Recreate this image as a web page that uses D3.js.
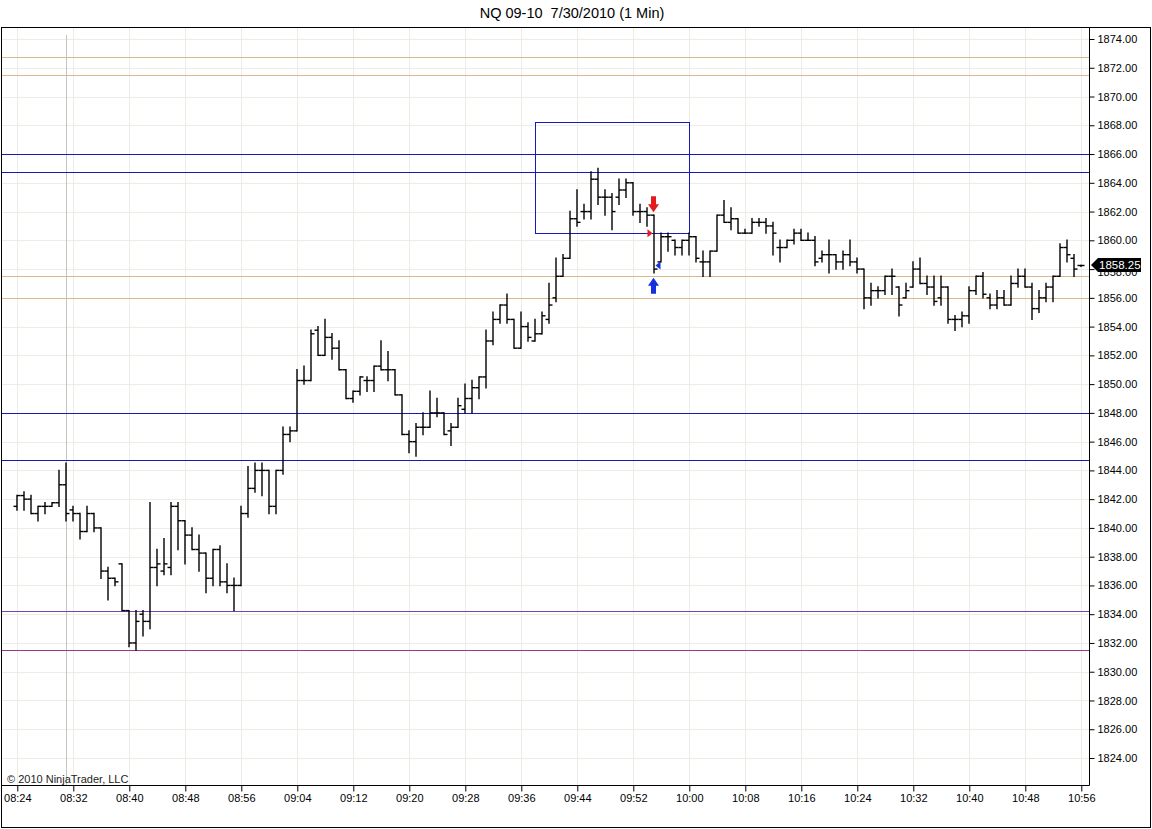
<!DOCTYPE html>
<html>
<head>
<meta charset="utf-8">
<script src="https://cdn.jsdelivr.net/npm/d3@7"></script>
<style>
  html, body { margin: 0; padding: 0; background: #fff; }
  svg text { font-family: "Liberation Sans", Arial, sans-serif; }
</style>
</head>
<body>
<div id="chart"></div>
<script>
// NQ 09-10 one-minute bars, 08:24 .. 10:56
const startTime = "08:24";
const opens = [
  1841.5, 1842.25, 1842.0, 1841.0, 1841.5, 1841.5, 1841.75, 1843.0, 1841.25, 1841.0,
  1839.75, 1841.0, 1840.0, 1837.0, 1836.5, 1837.5, 1834.25, 1832.0, 1834.0, 1833.5,
  1837.25, 1837.0, 1837.25, 1841.5, 1840.5, 1839.5, 1838.5, 1838.25, 1836.5, 1838.5,
  1836.25, 1836.0, 1836.0, 1841.0, 1842.75, 1844.0, 1844.0, 1841.5, 1844.0, 1846.5,
  1846.75, 1850.25, 1850.25, 1853.75, 1852.0, 1853.25, 1852.5, 1851.0, 1849.0, 1849.5,
  1850.25, 1850.25, 1851.25, 1851.0, 1851.0, 1849.25, 1846.5, 1846.0, 1847.0, 1847.0,
  1848.0, 1848.0, 1846.75, 1847.0, 1848.25, 1849.0, 1849.75, 1850.5, 1853.0, 1854.5,
  1855.5, 1854.5, 1852.5, 1854.0, 1853.0, 1853.5, 1854.5, 1856.0, 1857.5, 1858.75,
  1861.5, 1862.0, 1862.0, 1864.25, 1863.0, 1863.0, 1863.0, 1863.5, 1864.0, 1862.0,
  1862.0, 1861.75, 1858.5, 1860.25, 1860.0, 1859.5, 1860.0, 1860.25, 1858.5, 1858.5,
  1859.25, 1861.75, 1861.25, 1861.5, 1860.5, 1860.5, 1861.25, 1861.25, 1861.0, 1859.5,
  1859.5, 1860.0, 1860.5, 1860.0, 1860.0, 1858.75, 1859.0, 1859.0, 1858.5, 1859.0,
  1858.5, 1858.0, 1856.0, 1856.5, 1856.5, 1857.5, 1856.75, 1856.0, 1856.75, 1858.0,
  1857.0, 1856.75, 1856.0, 1856.75, 1854.5, 1854.5, 1854.75, 1856.5, 1857.5, 1856.0,
  1855.5, 1856.0, 1855.5, 1857.0, 1857.5, 1856.75, 1855.25, 1856.0, 1856.75, 1857.5,
  1859.5, 1858.75, 1858.25
];
const highs = [
  1842.25, 1842.5, 1842.25, 1841.5, 1841.75, 1841.75, 1844.0, 1844.5, 1841.5, 1841.0,
  1841.5, 1841.0, 1840.0, 1837.25, 1836.5, 1837.5, 1834.25, 1834.25, 1834.25, 1841.75,
  1838.5, 1839.25, 1841.75, 1841.75, 1840.5, 1840.0, 1839.5, 1838.25, 1838.5, 1838.75,
  1837.5, 1836.5, 1841.5, 1844.25, 1844.5, 1844.5, 1844.0, 1844.0, 1847.0, 1847.0,
  1851.0, 1851.25, 1853.75, 1854.0, 1854.5, 1853.5, 1853.0, 1851.0, 1849.5, 1850.5,
  1850.5, 1851.25, 1853.0, 1852.25, 1851.0, 1849.25, 1846.75, 1847.25, 1848.0, 1849.5,
  1849.0, 1848.0, 1847.25, 1849.0, 1850.0, 1850.25, 1850.5, 1853.75, 1855.0, 1855.5,
  1856.25, 1854.5, 1855.0, 1854.25, 1854.5, 1855.0, 1857.0, 1858.75, 1859.0, 1862.0,
  1863.5, 1862.5, 1864.75, 1865.0, 1863.5, 1863.25, 1864.25, 1864.25, 1864.0, 1862.5,
  1862.25, 1861.75, 1860.5, 1860.5, 1860.0, 1860.0, 1860.5, 1860.25, 1859.25, 1859.25,
  1861.75, 1862.75, 1862.25, 1861.5, 1860.75, 1861.5, 1861.5, 1861.5, 1861.25, 1860.0,
  1860.0, 1860.75, 1860.75, 1860.5, 1860.25, 1859.25, 1860.0, 1859.0, 1859.25, 1860.0,
  1858.75, 1858.0, 1857.0, 1856.75, 1857.5, 1858.0, 1856.75, 1857.0, 1858.5, 1858.75,
  1857.5, 1857.5, 1857.5, 1856.75, 1854.75, 1855.0, 1856.75, 1857.5, 1857.75, 1856.25,
  1856.5, 1856.5, 1857.5, 1858.0, 1858.0, 1857.0, 1856.5, 1857.0, 1857.5, 1859.75,
  1860.0, 1859.0, 1858.25
];
const lows = [
  1841.25, 1841.25, 1841.0, 1840.5, 1841.0, 1841.5, 1841.5, 1840.5, 1840.5, 1839.25,
  1839.75, 1839.75, 1836.5, 1835.0, 1836.0, 1834.25, 1831.75, 1831.5, 1832.5, 1833.0,
  1836.0, 1836.75, 1836.75, 1838.5, 1837.5, 1838.5, 1837.0, 1835.5, 1836.0, 1836.0,
  1835.5, 1834.25, 1836.0, 1840.75, 1842.5, 1842.25, 1841.0, 1841.0, 1843.75, 1846.0,
  1846.75, 1850.0, 1850.25, 1852.0, 1852.0, 1851.75, 1851.0, 1849.0, 1848.75, 1849.25,
  1849.5, 1849.5, 1851.0, 1850.25, 1849.25, 1846.5, 1845.25, 1845.0, 1846.5, 1847.0,
  1847.75, 1846.5, 1845.75, 1847.0, 1848.0, 1848.0, 1849.0, 1849.75, 1852.75, 1854.25,
  1854.25, 1852.5, 1852.5, 1853.0, 1853.0, 1853.5, 1854.25, 1855.75, 1857.5, 1858.75,
  1861.0, 1861.5, 1861.5, 1862.5, 1861.75, 1860.75, 1862.5, 1863.0, 1861.75, 1861.25,
  1861.0, 1857.75, 1858.5, 1859.25, 1859.0, 1859.0, 1859.0, 1858.5, 1857.5, 1857.5,
  1859.25, 1861.25, 1860.75, 1860.5, 1860.5, 1860.5, 1861.0, 1860.5, 1859.0, 1858.5,
  1859.5, 1859.75, 1860.0, 1860.0, 1858.25, 1858.5, 1857.75, 1858.0, 1858.0, 1858.25,
  1857.75, 1855.25, 1855.5, 1856.0, 1856.25, 1856.25, 1854.75, 1856.0, 1856.75, 1857.0,
  1856.25, 1855.5, 1855.5, 1854.25, 1853.75, 1854.0, 1854.25, 1856.25, 1856.0, 1855.25,
  1855.25, 1855.5, 1855.5, 1856.75, 1856.75, 1854.5, 1855.0, 1855.75, 1855.75, 1857.5,
  1858.5, 1857.5, 1858.25
];
const closes = [
  1842.25, 1842.0, 1841.0, 1841.5, 1841.5, 1841.75, 1843.0, 1841.0, 1841.0, 1839.75,
  1841.0, 1840.0, 1837.0, 1836.5, 1836.25, 1834.25, 1832.0, 1833.5, 1833.5, 1837.25,
  1837.5, 1837.5, 1841.5, 1840.5, 1839.5, 1838.5, 1838.25, 1836.5, 1838.5, 1836.25,
  1836.0, 1836.0, 1841.0, 1842.75, 1844.0, 1844.0, 1841.5, 1844.0, 1846.5, 1846.75,
  1850.25, 1850.25, 1853.5, 1852.0, 1853.25, 1852.5, 1851.0, 1849.0, 1849.5, 1850.5,
  1850.25, 1851.25, 1851.0, 1851.0, 1849.25, 1846.5, 1846.0, 1847.0, 1847.0, 1848.0,
  1848.0, 1846.5, 1847.0, 1848.5, 1849.0, 1849.75, 1850.5, 1853.0, 1854.5, 1855.5,
  1854.5, 1852.5, 1854.0, 1853.25, 1853.5, 1854.75, 1855.5, 1857.5, 1858.75, 1861.5,
  1861.25, 1862.0, 1864.25, 1863.0, 1863.0, 1862.0, 1863.5, 1864.0, 1862.0, 1862.0,
  1861.75, 1858.0, 1860.25, 1860.25, 1859.5, 1860.0, 1860.25, 1858.75, 1858.5, 1859.25,
  1861.75, 1861.25, 1861.5, 1860.5, 1860.5, 1861.25, 1861.25, 1861.0, 1860.5, 1859.5,
  1860.0, 1860.5, 1860.0, 1860.0, 1858.5, 1859.0, 1859.0, 1858.5, 1859.0, 1858.5,
  1858.0, 1856.0, 1856.5, 1856.5, 1857.5, 1857.5, 1855.5, 1856.5, 1858.0, 1857.0,
  1856.75, 1855.75, 1856.75, 1854.5, 1854.5, 1854.75, 1856.5, 1857.5, 1856.25, 1855.5,
  1856.0, 1855.5, 1857.0, 1857.5, 1856.75, 1855.25, 1856.0, 1856.75, 1857.5, 1859.5,
  1859.0, 1858.0, 1858.25
];

const timeTicks = ["08:24", "08:32", "08:40", "08:48", "08:56", "09:04", "09:12", "09:20",
  "09:28", "09:36", "09:44", "09:52", "10:00", "10:08", "10:16", "10:24", "10:32",
  "10:40", "10:48", "10:56"];
const priceTicks = [1824, 1826, 1828, 1830, 1832, 1834, 1836, 1838, 1840, 1842, 1844,
  1846, 1848, 1850, 1852, 1854, 1856, 1858, 1860, 1862, 1864, 1866, 1868, 1870, 1872, 1874];

// drawn horizontal levels
const levelPrices = [1872.75, 1871.5, 1866.0, 1864.75, 1857.5, 1856.0, 1848.0, 1844.75, 1834.25, 1831.5];
const levelColors = ["#d6b98c", "#d6b98c", "#1a1ab0", "#1a1ab0", "#d6b98c", "#d6b98c", "#1a1ab0", "#1a1ab0", "#7444b4", "#9a3a7a"];

// rectangle drawing: start/end time, top/bottom price
const boxTimes = ["09:38", "10:00"];
const boxPrices = [1868.25, 1860.5];

// trade markers on the 09:55 bar
const tradeTime = "09:55";
const entryPrice = 1860.5;
const exitPrice = 1858.25;
const sessionLine = "08:31";

const W = 1152, H = 829;
const pLeft = 2, pRight = 1089, pTop = 27, pBottom = 785;

const parse = d3.timeParse("%H:%M");
const t0 = parse(startTime);
const bars = opens.map((o, i) => ({
  t: d3.timeMinute.offset(t0, i), o, h: highs[i], l: lows[i], c: closes[i]
}));

const x = d3.scaleTime()
  .domain([t0, parse("10:56")])
  .range([17.3, 1081.3]);
const y = d3.scaleLinear()
  .domain([1824, 1874])
  .range([758, 39]);

const svg = d3.select("#chart").append("svg")
  .attr("width", W).attr("height", H)
  .style("background", "#fff");

// title
svg.append("text")
  .attr("x", 572).attr("y", 18)
  .attr("text-anchor", "middle")
  .attr("xml:space", "preserve")
  .style("font-size", "14.5px")
  .style("fill", "#000")
  .style("white-space", "pre")
  .text("NQ 09-10  7/30/2010 (1 Min)");

const plot = svg.append("g");

// grid
plot.selectAll("line.hgrid").data(priceTicks).enter().append("line")
  .attr("class", "hgrid")
  .attr("x1", pLeft).attr("x2", pRight)
  .attr("y1", d => Math.round(y(d)) + 0.5).attr("y2", d => Math.round(y(d)) + 0.5)
  .attr("stroke", "#efece6").attr("stroke-width", 1);

plot.selectAll("line.vgrid").data(timeTicks).enter().append("line")
  .attr("class", "vgrid")
  .attr("x1", d => Math.round(x(parse(d))) + 0.5).attr("x2", d => Math.round(x(parse(d))) + 0.5)
  .attr("y1", pTop).attr("y2", pBottom)
  .attr("stroke", "#efece6").attr("stroke-width", 1);

// session start line
plot.append("line")
  .attr("x1", Math.round(x(parse(sessionLine)) - 0.5) + 0.5)
  .attr("x2", Math.round(x(parse(sessionLine)) - 0.5) + 0.5)
  .attr("y1", 35).attr("y2", pBottom)
  .attr("stroke", "#c4c4c4").attr("stroke-width", 1);

// levels
plot.selectAll("line.level").data(levelPrices).enter().append("line")
  .attr("class", "level")
  .attr("x1", pLeft).attr("x2", pRight)
  .attr("y1", d => Math.round(y(d)) + 0.5).attr("y2", d => Math.round(y(d)) + 0.5)
  .attr("stroke", (d, i) => levelColors[i]).attr("stroke-width", 1);

// rectangle
plot.append("rect")
  .attr("x", Math.round(x(parse(boxTimes[0]))) + 0.5)
  .attr("y", Math.round(y(boxPrices[0])) + 0.5)
  .attr("width", Math.round(x(parse(boxTimes[1])) - x(parse(boxTimes[0]))))
  .attr("height", Math.round(y(boxPrices[1]) - y(boxPrices[0])))
  .attr("fill", "none")
  .attr("stroke", "#1818c0").attr("stroke-width", 1);

// OHLC bars
const gb = plot.append("g")
  .attr("stroke", "#000").attr("stroke-width", 1.4).attr("fill", "none");
bars.forEach(b => {
  const cx = Math.round(x(b.t));
  const yh = y(b.h), yl = y(b.l);
  gb.append("line").attr("x1", cx).attr("x2", cx)
    .attr("y1", yh - 0.7).attr("y2", Math.max(yl + 0.7, yh + 1.5));
  gb.append("line").attr("x1", cx - 3.5).attr("x2", cx)
    .attr("y1", y(b.o)).attr("y2", y(b.o));
  gb.append("line").attr("x1", cx).attr("x2", cx + 3.5)
    .attr("y1", y(b.c)).attr("y2", y(b.c));
});

// trade markers
const tb = bars.find(b => +b.t === +parse(tradeTime));
const tx = Math.round(x(tb.t)) - 0.5;
// red down arrow above the bar
const ryTip = y(tb.h) - 3;
plot.append("path")
  .attr("d", `M${tx - 2.5},${ryTip - 16} h5 v8 h3 l-5.5,8 l-5.5,-8 h3 z`)
  .attr("fill", "#e41a1c");
// blue up arrow below the bar
const byTip = y(tb.l) + 5;
plot.append("path")
  .attr("d", `M${tx - 2.5},${byTip + 16} h5 v-8 h3 l-5.5,-8 l-5.5,8 h3 z`)
  .attr("fill", "#1530e0");
// entry / exit triangles
plot.append("path")
  .attr("d", `M${tx - 6},${y(entryPrice) - 4} l5,4 l-5,4 z`)
  .attr("fill", "#e41a1c");
plot.append("path")
  .attr("d", `M${tx + 7},${y(exitPrice) - 4} l-5,4 l5,4 z`)
  .attr("fill", "#1530e0");

// frame
svg.append("rect")
  .attr("x", 1.5).attr("y", pTop + 0.5)
  .attr("width", 1149).attr("height", 800)
  .attr("fill", "none").attr("stroke", "#000").attr("stroke-width", 1);

// price axis
const yAxis = svg.append("g")
  .attr("transform", `translate(${pRight + 0.5},0)`)
  .call(d3.axisRight(y).tickValues(priceTicks).tickFormat(d3.format(".2f"))
    .tickSize(5).tickSizeOuter(0).tickPadding(3));
yAxis.select(".domain").remove();
yAxis.selectAll("text").style("font-size", "11px").style("fill", "#000")
  .style("font-family", "'Liberation Sans', Arial, sans-serif");
svg.append("line")
  .attr("x1", pRight + 0.5).attr("x2", pRight + 0.5)
  .attr("y1", pTop).attr("y2", pBottom + 0.5)
  .attr("stroke", "#000");

// time axis
const xAxis = svg.append("g")
  .attr("transform", `translate(0,${pBottom + 0.5})`)
  .call(d3.axisBottom(x).tickValues(timeTicks.map(parse))
    .tickFormat(d3.timeFormat("%H:%M")).tickSize(6).tickSizeOuter(0).tickPadding(3));
xAxis.select(".domain").remove();
xAxis.selectAll("text").style("font-size", "11px").style("fill", "#000")
  .style("font-family", "'Liberation Sans', Arial, sans-serif");
svg.append("line")
  .attr("x1", pLeft).attr("x2", pRight + 0.5)
  .attr("y1", pBottom + 0.5).attr("y2", pBottom + 0.5)
  .attr("stroke", "#000");

// copyright
svg.append("text")
  .attr("x", 7).attr("y", 783)
  .style("font-size", "11px").style("fill", "#222")
  .text("\u00a9 2010 NinjaTrader, LLC");

// last price marker (covers the 1858.00 axis label, as in the original)
const last = bars[bars.length - 1].c;
const ly = Math.round(y(last));
yAxis.selectAll(".tick").filter(d => Math.abs(y(d) - ly) < 8)
  .select("text").attr("dy", "0.6em");
svg.append("path")
  .attr("d", `M${pRight + 2},${ly} L${pRight + 9},${ly - 7} H${pRight + 52} V${ly + 7} H${pRight + 9} Z`)
  .attr("fill", "#000");
svg.append("text")
  .attr("x", pRight + 10).attr("y", ly + 4)
  .style("font-size", "11.5px").style("fill", "#fff")
  .text(d3.format(".2f")(last));
</script>
</body>
</html>
